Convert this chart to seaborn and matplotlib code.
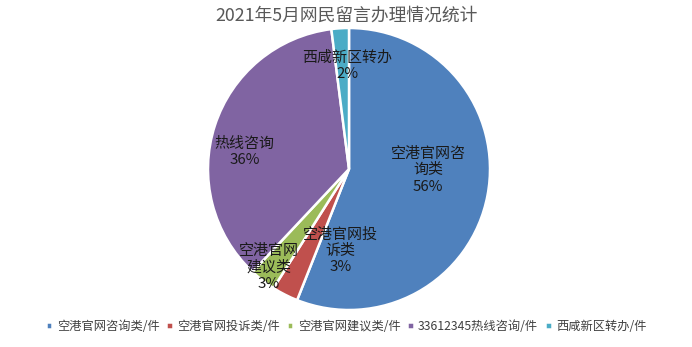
import matplotlib
matplotlib.use("Agg")
import matplotlib.pyplot as plt
import seaborn as sns

# Complaint / enquiry handling, May 2021
categories = ["空港官网咨询类/件", "空港官网投诉类/件", "空港官网建议类/件",
              "33612345热线咨询/件", "西咸新区转办/件"]
slice_labels = ["空港官网咨\n询类", "空港官网投\n诉类", "空港官网\n建议类",
                "热线咨询", "西咸新区转办"]
values = [56, 3, 3, 36, 2]
colors = ["#4F81BD", "#C0504D", "#9BBB59", "#8064A2", "#4BACC6"]

# label anchor points in pie units (radius = 1)
label_pos = [(0.56, -0.01), (-0.06, -0.58), (-0.57, -0.70), (-0.74, 0.12), (-0.01, 0.73)]

sns.set_theme(style="white")
plt.rcParams["font.family"] = ["Noto Sans CJK SC", "DejaVu Sans"]

fig = plt.figure(figsize=(6.92, 3.47), dpi=100)
fig.patch.set_facecolor("white")
ax = fig.add_axes([208 / 692, 37 / 347, 282 / 692, 282 / 347])

wedges, _ = ax.pie(values, colors=sns.color_palette(colors), startangle=90,
                   counterclock=False, radius=1,
                   wedgeprops=dict(edgecolor="white", linewidth=1.8))
ax.set_xlim(-1, 1)
ax.set_ylim(-1, 1)
ax.set_aspect("equal")
ax.axis("off")

total = sum(values)
for lab, v, (x, y) in zip(slice_labels, values, label_pos):
    ax.text(x, y, f"{lab}\n{round(100 * v / total)}%", ha="center", va="center",
            fontsize=10.8, color="#1a1a1a", linespacing=1.2)

fig.text(0.5, 0.955, "2021年5月网民留言办理情况统计", ha="center", va="center",
         fontsize=12.8, color="#595959")

fig.legend(wedges, categories, loc="center", bbox_to_anchor=(0.5, 0.06),
           ncol=5, frameon=False, fontsize=8.8, handlelength=0.55, handleheight=0.55,
           handletextpad=0.35, columnspacing=0.55, labelcolor="#404040")

fig.savefig("out.png", dpi=100, facecolor="white")
